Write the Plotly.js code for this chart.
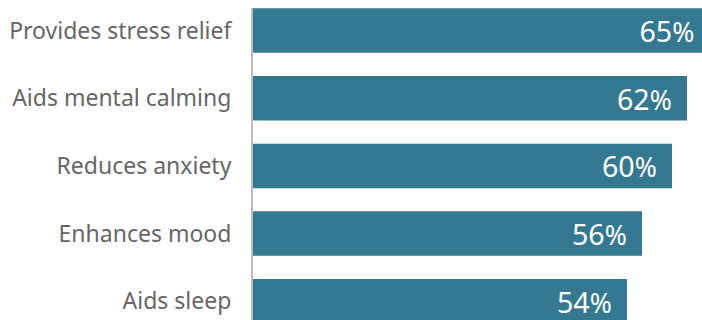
<!DOCTYPE html>
<html>
<head>
<meta charset="utf-8">
<script src="https://cdn.plot.ly/plotly-3.0.1.min.js"></script>
<style>
html,body{margin:0;padding:0;background:#fff;}
#chart{width:702px;height:320px;}
</style>
</head>
<body>
<div id="chart"></div>
<script>
const categories = ["Provides stress relief", "Aids mental calming", "Reduces anxiety", "Enhances mood", "Aids sleep"];
const values = [65, 62, 60, 56, 54];

const trace = {
  type: 'bar',
  orientation: 'h',
  y: categories,
  x: values,
  marker: {color: '#347891'},
  texttemplate: '%{x}<span style="font-size:27px">%</span>\u00A0\u2009',
  textposition: 'inside',
  insidetextanchor: 'end',
  textangle: 0,
  insidetextfont: {family: 'Noto Sans', size: 29, color: '#ffffff'},
  hoverinfo: 'none',
  cliponaxis: true
};

const layout = {
  width: 702,
  height: 320,
  margin: {l: 253, r: 0, t: 8, b: 0, pad: 0},
  paper_bgcolor: '#ffffff',
  plot_bgcolor: '#ffffff',
  showlegend: false,
  bargap: 0.343,
  xaxis: {
    range: [4.13, 64],
    showgrid: false,
    zeroline: false,
    showticklabels: false,
    showline: false,
    fixedrange: true
  },
  yaxis: {
    type: 'category',
    range: [4.276, -0.332],
    showgrid: false,
    zeroline: false,
    showline: true,
    linecolor: '#bcbcbc',
    linewidth: 2,
    ticks: '',
    ticklabelstandoff: 15,
    tickfont: {family: 'Noto Sans', size: 23, color: '#666666'},
    automargin: false,
    fixedrange: true
  }
};

Plotly.newPlot('chart', [trace], layout, {displayModeBar: false, staticPlot: true});
</script>
</body>
</html>
